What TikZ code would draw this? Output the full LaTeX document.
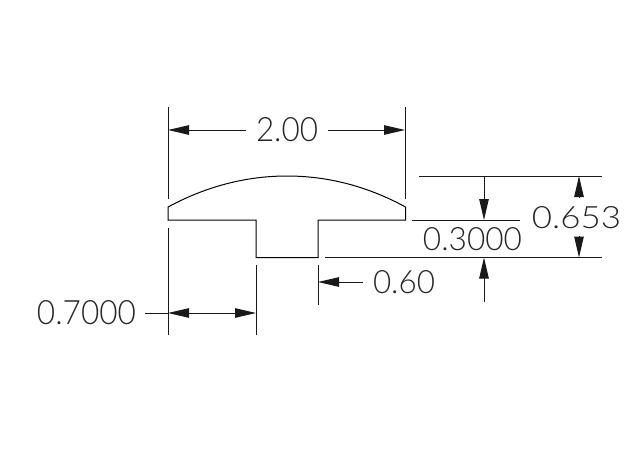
\documentclass[tikz,border=0pt]{standalone}
\usepackage{graphicx}
\usepackage{fontspec}
\setmainfont{Lato Light}
\usetikzlibrary{arrows.meta}
\newcommand{\dimtxt}[3]{\resizebox{#1pt}{#2pt}{#3}}
\tikzset{
  part/.style={line width=1pt,black,line join=miter},
  dimline/.style={line width=1pt,black!90},
  tip/.style={-{Stealth[length=21pt,width=9.5pt,inset=0pt]}},
  tiptwo/.style={{Stealth[length=21pt,width=9.5pt,inset=0pt]}-{Stealth[length=21pt,width=9.5pt,inset=0pt]}},
  dimlabel/.style={inner sep=0pt,outer sep=0pt,text=black!85}
}
\begin{document}
\begin{tikzpicture}[x=1pt,y=-1pt]
\useasboundingbox (0,0) rectangle (638,472);
% profile
\draw[part] (168,207) .. controls (205,187) and (245,176) .. (287,176)
  .. controls (329,176) and (369,187) .. (405.5,207)
  -- (405.5,220) -- (318,220) -- (318,257.5) -- (256,257.5) -- (256,220) -- (168,220) -- cycle;
% coordinates
\coordinate (extLtop) at (168,107); \coordinate (extLbot) at (168,199);
\coordinate (extRtop) at (405,107); \coordinate (extRbot) at (405,199);
\coordinate (ext2a) at (168,228); \coordinate (ext2b) at (168,335);
\coordinate (ext3a) at (256,265); \coordinate (ext3b) at (256,335);
\coordinate (ext4a) at (318,265); \coordinate (ext4b) at (318,305);
\coordinate (hTopA) at (419,176); \coordinate (hTopB) at (602,176);
\coordinate (hMidA) at (412,220); \coordinate (hMidB) at (520,220);
\coordinate (hBotA) at (325,257.5); \coordinate (hBotB) at (602,257.5);
% labels
\node[dimlabel] (lA) at (287,130) {\dimtxt{62}{24}{2.00}};
\node[dimlabel] (lB) at (576.5,218) {\dimtxt{89}{22}{0.653}};
\node[dimlabel] (lC) at (472.5,239.5) {\dimtxt{99}{23}{0.3000}};
\node[dimlabel] (lD) at (404,282.5) {\dimtxt{62}{23}{0.60}};
\node[dimlabel] (lE) at (86.5,313) {\dimtxt{99}{24}{0.7000}};
% extension lines
\draw[dimline] (extLtop) -- (extLbot);
\draw[dimline] (extRtop) -- (extRbot);
\draw[dimline] (ext2a) -- (ext2b);
\draw[dimline] (ext3a) -- (ext3b);
\draw[dimline] (ext4a) -- (ext4b);
\draw[dimline] (hTopA) -- (hTopB);
\draw[dimline] (hMidA) -- (hMidB);
\draw[dimline] (hBotA) -- (hBotB);
% 2.00
\coordinate (a1) at (168,130); \coordinate (a2) at (246,130);
\coordinate (a3) at (328,130); \coordinate (a4) at (405,130);
\draw[dimline,tip] (a2) -- (a1);
\draw[dimline,tip] (a3) -- (a4);
% 0.3000
\coordinate (b1) at (484,176); \coordinate (b2) at (484,220);
\coordinate (b3) at (484,302); \coordinate (b4) at (484,257.5);
\draw[dimline,tip] (b1) -- (b2);
\draw[dimline,tip] (b3) -- (b4);
% 0.653
\coordinate (c1) at (579,198); \coordinate (c2) at (579,176);
\coordinate (c3) at (579,236); \coordinate (c4) at (579,257.5);
\draw[dimline,tip] (c1) -- (c2);
\draw[dimline,tip] (c3) -- (c4);
% 0.60
\coordinate (d1) at (363,282); \coordinate (d2) at (318,282);
\draw[dimline,tip] (d1) -- (d2);
% 0.7000
\coordinate (e1) at (145,313); \coordinate (e2) at (168,313); \coordinate (e3) at (256,313);
\draw[dimline] (e1) -- (e2);
\draw[dimline,tiptwo] (e2) -- (e3);
\end{tikzpicture}
\end{document}
